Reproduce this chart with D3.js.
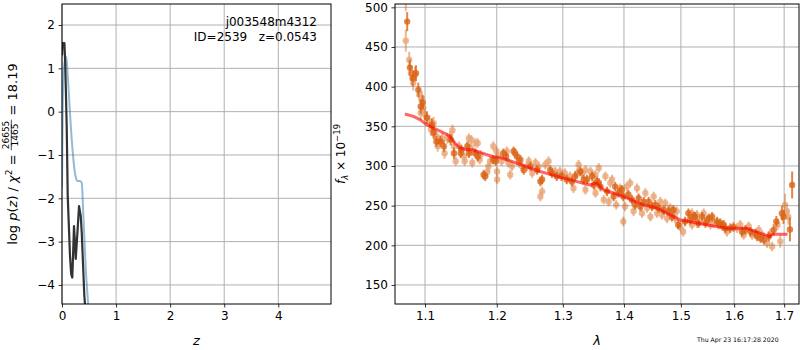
<!DOCTYPE html>
<html>
<head>
<meta charset="utf-8">
<script src="https://cdn.jsdelivr.net/npm/d3@7"></script>
<style>
  body { margin: 0; background: #fff; }
  svg { font-family: "DejaVu Sans", sans-serif; }
  .tick text { font-size: 12px; fill: #000; }
  .tick line { stroke: #000; stroke-width: 0.8; }
</style>
</head>
<body>
<div id="chart"></div>
<script>
// ===== data: left panel, log p(z) =====
const zTicks = [0, 1, 2, 3, 4];
const logpTicks = [-4, -3, -2, -1, 0, 1, 2];
const zBlack = [0, 0.01, 0.045, 0.06, 0.087, 0.106, 0.148, 0.17, 0.19, 0.205, 0.222, 0.238, 0.254, 0.285, 0.315, 0.346, 0.365, 0.413, 0.46];
const logpBlack = [1.3, 1.58, 1.58, 1.1, -0.34, -1.95, -3.33, -3.75, -3.83, -3.3, -2.64, -3.0, -3.4, -2.8, -2.18, -2.4, -2.79, -4.25, -5.0];
const zBlue = [0, 0.012, 0.03, 0.06, 0.08, 0.1, 0.13, 0.18, 0.25, 0.29, 0.33, 0.365, 0.395, 0.44, 0.49, 0.52];
const logpBlue = [-1.75, 0.0, 0.9, 1.22, 1.27, 0.95, 0.35, -0.64, -1.49, -1.6, -1.6, -1.64, -2.4, -3.63, -4.55, -5.1];

// ===== data: right panel, spectrum [lambda, flux, err] =====
const lamTicks = [1.1, 1.2, 1.3, 1.4, 1.5, 1.6, 1.7];
const fluxTicks = [150, 200, 250, 300, 350, 400, 450, 500];
const darkPts = [
  [1.0765,482,12],[1.080,424,10],[1.0836,411,10],[1.088,417,10],[1.0911,396,9],[1.0969,380,9],[1.0943,375,9],
  [1.1024,361,8],[1.1093,352,8],[1.1115,342,8],[1.1153,331,7],[1.1208,331,7],[1.1254,325,7],[1.1347,333,7],
  [1.1393,316,7],[1.1496,320.5,6],[1.1486,316,6],[1.1579,325,6],[1.1601,316,6],[1.1694,316,6],[1.1726,312,6],
  [1.181,289,6],[1.1833,287,6],[1.1949,308,6],[1.1986,306,6],[1.2095,316,6],[1.2136,312,6],[1.2247,318.5,6],
  [1.2298,312,6],[1.2348,308,6],[1.2398,295,6],[1.25,299.5,6],[1.2601,295,6],[1.2651,280.5,6],[1.2677,283,6],
  [1.2803,295,6],[1.2828,291,6],[1.2904,287,6],[1.298,287,6],[1.3061,283,6],[1.3143,280.5,6],[1.3197,287,6],
  [1.3279,293,6],[1.3333,283,6],[1.3389,283,6],[1.3471,287,6],[1.3497,276,6],[1.3552,280.5,6],[1.3579,278.5,6],
  [1.3607,274,6],[1.3716,268,6],[1.3825,261.5,6],[1.3852,274,6],[1.3907,266,6],[1.3962,270,6],[1.3989,261.5,6],
  [1.4075,264,6],[1.4135,257.5,6],[1.4193,251,6],[1.4251,259.5,6],[1.4281,249,6],[1.4338,255,6],[1.4426,255,6],
  [1.4486,249,6],[1.4544,251,6],[1.4602,247,6],[1.4689,244.5,6],[1.4777,243,6],[1.4837,236,6],[1.4865,244.5,6],
  [1.4952,226,6],[1.5075,230,6],[1.5138,240.5,6],[1.517,232,6],[1.5232,236,6],[1.5326,228,6],[1.5264,236,6],
  [1.5391,236,6],[1.5453,228,6],[1.5515,234,6],[1.5579,236,6],[1.5673,230,6],[1.5736,228,6],[1.5798,226,6],
  [1.583,221.6,6],[1.5925,221.6,6],[1.5987,223,6],[1.6154,217,6],[1.622,219.5,6],[1.632,217,6],[1.642,215,6],
  [1.6454,211,6],[1.652,209,6],[1.6586,207,6],[1.6686,211,6],[1.6786,219.5,7],[1.684,230,7],[1.6954,240.5,9],
  [1.6986,236,9],[1.712,220,15],[1.7166,276,17]
];
const lightPts = [
  [1.0747,510,15],[1.0747,458,14],[1.0791,434,10],[1.0814,417,10],[1.0867,415,10],[1.0844,405,10],[1.0924,390,9],
  [1.0956,386,9],[1.0977,373,9],[1.0943,367,9],[1.1,365,8],[1.106,356,8],[1.1115,354,8],[1.1079,346,8],
  [1.1139,339.5,7],[1.1185,333,7],[1.1171,325,7],[1.1232,335,7],[1.1264,316,7],[1.1301,335,7],[1.1338,337,7],
  [1.1371,345,7],[1.1393,325,7],[1.1417,306,6],[1.1463,325,6],[1.1532,312,6],[1.1542,306,6],[1.1601,335,6],
  [1.1635,333,6],[1.1625,323,6],[1.1649,318.5,6],[1.1694,329,6],[1.1726,329,6],[1.1764,314,6],[1.1649,304,6],
  [1.1754,308,6],[1.1865,293,6],[1.1879,299.5,6],[1.1903,306,6],[1.1996,318.5,6],[1.2004,293,6],[1.1949,325,6],
  [1.202,312,6],[1.2005,283,6],[1.2071,306,6],[1.2147,318.5,6],[1.2171,304,6],[1.2197,289,6],[1.2223,299.5,6],
  [1.2273,316,6],[1.2323,304,6],[1.2374,299.5,6],[1.245,299.5,6],[1.2474,306,6],[1.2526,291,6],[1.2576,304,6],
  [1.2626,299.5,6],[1.2677,268,6],[1.2651,261.5,6],[1.2727,301.5,6],[1.2777,306,6],[1.2879,293,6],[1.2954,293,6],
  [1.3033,291,6],[1.3115,287,6],[1.3169,272,6],[1.3225,291,6],[1.3251,301.5,6],[1.3306,291,6],[1.3361,295,6],
  [1.3361,270,6],[1.3443,293,6],[1.3525,289,6],[1.3579,297.5,6],[1.3525,266,6],[1.3661,257.5,6],[1.3689,287,6],
  [1.3743,255,6],[1.377,278.5,6],[1.3798,283,6],[1.3869,251,6],[1.3934,272,6],[1.3989,230,6],[1.4018,249,6],
  [1.4047,274,6],[1.4105,278.5,6],[1.4163,243,6],[1.4223,272,6],[1.431,240.5,6],[1.4368,266,6],[1.4398,247,6],
  [1.4456,236,6],[1.4514,261.5,6],[1.4573,240.5,6],[1.4631,255,6],[1.4661,238.5,6],[1.4719,253,6],[1.4749,234,6],
  [1.4807,247,6],[1.4895,234,6],[1.4924,243,6],[1.4982,224,6],[1.5043,217,6],[1.5202,226,6],[1.5296,238.5,6],
  [1.5202,240.5,6],[1.5296,228,6],[1.5421,240.5,6],[1.5485,232,6],[1.5547,226,6],[1.5609,228,6],[1.5703,226,6],
  [1.5768,224,6],[1.5862,217,6],[1.6054,221.6,6],[1.612,226,6],[1.6186,213,6],[1.6286,224,6],[1.6354,213,6],
  [1.6486,219.5,6],[1.6554,213,6],[1.6654,202.5,6],[1.672,215,6],[1.6754,198.5,6],[1.6866,226,7],[1.692,205,8],
  [1.702,251,14],[1.7054,243,10],[1.7086,236,10]
];
const modelLam = [1.0735,1.0846,1.0934,1.1023,1.111,1.1246,1.1336,1.1404,1.1472,1.1566,1.1655,1.1795,1.1935,1.2076,
  1.236,1.2647,1.2998,1.3434,1.3545,1.3656,1.3994,1.4336,1.4569,1.4745,1.4985,1.5289,1.5853,1.6238,1.6697,1.6764,1.7071];
const modelFlux = [365.6,362.6,358.5,352,348,342,337.5,329,323,320.5,320.5,316,312,310,
  301.5,293,285,276,278.5,270,261.5,251,247,240.5,232,228,221.6,221.6,211,214,214];

const width = 800;
const height = 350;

const svg = d3.select("#chart")
  .append("svg")
  .attr("width", width)
  .attr("height", height);

const defs = svg.append("defs");

function panelGrid(g, x, y, xt, yt, box) {
  g.selectAll("line.gx").data(xt).enter().append("line")
    .attr("x1", d => x(d)).attr("x2", d => x(d))
    .attr("y1", box.top).attr("y2", box.bottom)
    .attr("stroke", "#b0b0b0").attr("stroke-width", 1);
  g.selectAll("line.gy").data(yt).enter().append("line")
    .attr("x1", box.left).attr("x2", box.right)
    .attr("y1", d => y(d)).attr("y2", d => y(d))
    .attr("stroke", "#b0b0b0").attr("stroke-width", 1);
}

function frame(box) {
  svg.append("rect")
    .attr("x", box.left).attr("y", box.top)
    .attr("width", box.right - box.left).attr("height", box.bottom - box.top)
    .attr("fill", "none").attr("stroke", "#000").attr("stroke-width", 1);
}

function cleanAxis(g) {
  g.attr("font-family", null).attr("font-size", null);
  g.select(".domain").remove();
}

// ========== left panel: p(z) ==========
const boxL = { left: 62, right: 331, top: 4, bottom: 304 };
const xz = d3.scaleLinear().domain([0, 4.975]).range([boxL.left, boxL.right]);
const yp = d3.scaleLinear().domain([-4.44, 2.485]).range([boxL.bottom, boxL.top]);

defs.append("clipPath").attr("id", "clipL").append("rect")
  .attr("x", boxL.left).attr("y", boxL.top)
  .attr("width", boxL.right - boxL.left).attr("height", boxL.bottom - boxL.top);

panelGrid(svg.append("g"), xz, yp, zTicks, logpTicks, boxL);

const gL = svg.append("g").attr("clip-path", "url(#clipL)");

gL.append("path")
  .datum(zBlue.map((z, i) => [xz(z), yp(logpBlue[i])]))
  .attr("d", d3.line().curve(d3.curveMonotoneX))
  .attr("fill", "none")
  .attr("stroke", "#1f77b4")
  .attr("stroke-opacity", 0.5)
  .attr("stroke-width", 2);

gL.append("path")
  .datum(zBlack.map((z, i) => [xz(z), yp(logpBlack[i])]))
  .attr("d", d3.line())
  .attr("fill", "none")
  .attr("stroke", "#333")
  .attr("stroke-width", 2.2)
  .attr("stroke-linejoin", "round");

svg.append("g")
  .attr("transform", `translate(0,${boxL.bottom})`)
  .call(d3.axisBottom(xz).tickValues(zTicks).tickSize(3.5).tickPadding(3.5).tickFormat(d3.format("d")))
  .call(cleanAxis);

svg.append("g")
  .attr("transform", `translate(${boxL.left},0)`)
  .call(d3.axisLeft(yp).tickValues(logpTicks).tickSize(3.5).tickPadding(3.5).tickFormat(d3.format("d")))
  .call(cleanAxis);

frame(boxL);

svg.append("text")
  .attr("x", 317).attr("y", 26)
  .attr("text-anchor", "end")
  .style("font-size", "12px")
  .text("j003548m4312");

svg.append("text")
  .attr("x", 317).attr("y", 41)
  .attr("text-anchor", "end")
  .style("font-size", "12px")
  .style("white-space", "pre")
  .text("ID=2539   z=0.0543");

svg.append("text")
  .attr("x", (boxL.left + boxL.right) / 2).attr("y", 345)
  .attr("text-anchor", "middle")
  .style("font-size", "13px")
  .style("font-style", "italic")
  .text("z");

// y label with fraction
const ylab = svg.append("g").attr("transform", "rotate(-90)");
const t1 = ylab.append("text").attr("y", 17).style("font-size", "13px").style("white-space", "pre");
t1.append("tspan").text("log ");
t1.append("tspan").style("font-style", "italic").text("p");
t1.append("tspan").text("(");
t1.append("tspan").style("font-style", "italic").text("z");
t1.append("tspan").text(") / ");
t1.append("tspan").style("font-style", "italic").text("\u03c7");
t1.append("tspan").attr("dy", -5.5).style("font-size", "9px").text("2");
t1.append("tspan").attr("dy", 5.5).text(" = ");
const num = ylab.append("text").attr("y", 9).style("font-size", "9px").attr("text-anchor", "middle").text("26655");
const den = ylab.append("text").attr("y", 18).style("font-size", "9px").attr("text-anchor", "middle").text("1465");
const t2 = ylab.append("text").attr("y", 17).style("font-size", "13px").style("white-space", "pre").text(" = 18.19");

const w1 = t1.node().getComputedTextLength();
const wf = Math.max(num.node().getComputedTextLength(), den.node().getComputedTextLength()) + 2;
const w2 = t2.node().getComputedTextLength();
const start = -((boxL.top + boxL.bottom) / 2 + (w1 + wf + w2) / 2);
t1.attr("x", start);
num.attr("x", start + w1 + wf / 2);
den.attr("x", start + w1 + wf / 2);
ylab.append("line")
  .attr("x1", start + w1).attr("x2", start + w1 + wf)
  .attr("y1", 11.3).attr("y2", 11.3)
  .attr("stroke", "#000").attr("stroke-width", 0.7);
t2.attr("x", start + w1 + wf);

// ========== right panel: spectrum ==========
const boxR = { left: 395, right: 799, top: 4, bottom: 304 };
const xl = d3.scaleLog().domain([1.0607, 1.7309]).range([boxR.left, boxR.right]);
const yf = d3.scaleLinear().domain([126, 504.2]).range([boxR.bottom, boxR.top]);

defs.append("clipPath").attr("id", "clipR").append("rect")
  .attr("x", boxR.left).attr("y", boxR.top)
  .attr("width", boxR.right - boxR.left).attr("height", boxR.bottom - boxR.top);

panelGrid(svg.append("g"), xl, yf, lamTicks, fluxTicks, boxR);

const gR = svg.append("g").attr("clip-path", "url(#clipR)");

function drawPts(pts, opacity, cls) {
  const g = gR.append("g").attr("opacity", opacity);
  g.selectAll("line." + cls)
    .data(pts)
    .enter()
    .append("line")
    .attr("class", cls)
    .attr("x1", d => xl(d[0])).attr("x2", d => xl(d[0]))
    .attr("y1", d => yf(d[1] - d[2])).attr("y2", d => yf(d[1] + d[2]))
    .attr("stroke", "#d95f0e")
    .attr("stroke-width", 2)
    .attr("stroke-opacity", 0.8);
  g.selectAll("circle." + cls)
    .data(pts)
    .enter()
    .append("circle")
    .attr("class", cls)
    .attr("cx", d => xl(d[0]))
    .attr("cy", d => yf(d[1]))
    .attr("r", 3.2)
    .attr("fill", "#d95f0e")
    .attr("fill-opacity", 0.8);
}

drawPts(lightPts, 0.55, "lt");
drawPts(darkPts, 0.95, "dk");

gR.append("path")
  .datum(modelLam.map((l, i) => [xl(l), yf(modelFlux[i])]))
  .attr("d", d3.line())
  .attr("fill", "none")
  .attr("stroke", "red")
  .attr("stroke-opacity", 0.6)
  .attr("stroke-width", 3)
  .attr("stroke-linejoin", "round");

svg.append("g")
  .attr("transform", `translate(0,${boxR.bottom})`)
  .call(d3.axisBottom(xl).tickValues(lamTicks).tickSize(3.5).tickPadding(3.5).tickFormat(d3.format(".1f")))
  .call(cleanAxis);

svg.append("g")
  .attr("transform", `translate(${boxR.left},0)`)
  .call(d3.axisLeft(yf).tickValues(fluxTicks).tickSize(3.5).tickPadding(3.5).tickFormat(d3.format("d")))
  .call(cleanAxis);

frame(boxR);

svg.append("text")
  .attr("x", (boxR.left + boxR.right) / 2).attr("y", 345)
  .attr("text-anchor", "middle")
  .style("font-size", "13px")
  .style("font-style", "italic")
  .text("\u03bb");

const fl = svg.append("text")
  .attr("transform", `translate(345,${(boxR.top + boxR.bottom) / 2}) rotate(-90)`)
  .attr("text-anchor", "middle")
  .style("font-size", "12px");
fl.append("tspan").style("font-style", "italic").text("f");
fl.append("tspan").attr("dy", 3).style("font-size", "8.5px").style("font-style", "italic").text("\u03bb");
fl.append("tspan").attr("dy", -3).text(" \u00d7 10");
fl.append("tspan").attr("dy", -5).style("font-size", "8.5px").text("\u221219");

svg.append("text")
  .attr("x", 697).attr("y", 342)
  .style("font-size", "6.2px")
  .text("Thu Apr 23 16:17:28 2020");
</script>
</body>
</html>
